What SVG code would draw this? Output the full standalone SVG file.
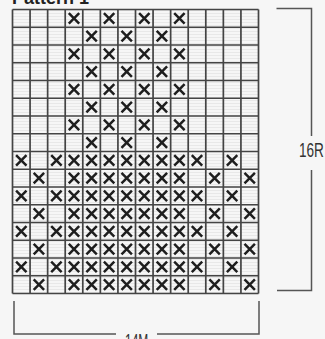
<svg xmlns="http://www.w3.org/2000/svg" xmlns:xlink="http://www.w3.org/1999/xlink" width="325" height="339" viewBox="0 0 325 339">
  <style>
    .grid{fill:none;stroke:#444;stroke-width:1.7}
    .mark{fill:none;stroke:#1e1e1e;stroke-width:2.5;stroke-linecap:butt}
    .dim{fill:none;stroke:#555;stroke-width:1.5}
    .title{font-family:"Liberation Sans",Arial,sans-serif;font-weight:bold;font-size:18px;fill:#222}
    .lbl{font-family:"Liberation Sans",Arial,sans-serif;font-size:20px;fill:#333}
  </style>
  <defs>
    <pattern id="tex" x="0" y="0" width="6" height="3" patternUnits="userSpaceOnUse">
      <line x1="0" y1="1.5" x2="6" y2="1.5" stroke="#e4e4e4" stroke-width="0.8"/>
    </pattern>
    <path id="x" class="mark" d="M-5.2,-5.2L5.2,5.2M5.2,-5.2L-5.2,5.2"/>
    <g id="rowA">
      <use xlink:href="#x" x="74.0"/><use xlink:href="#x" x="109.1"/><use xlink:href="#x" x="144.3"/><use xlink:href="#x" x="179.4"/>
    </g>
    <g id="rowB">
      <use xlink:href="#x" x="91.6"/><use xlink:href="#x" x="126.7"/><use xlink:href="#x" x="161.9"/>
    </g>
    <g id="rowC">
      <use xlink:href="#x" x="21.3"/><use xlink:href="#x" x="56.4"/><use xlink:href="#x" x="74.0"/><use xlink:href="#x" x="91.6"/><use xlink:href="#x" x="109.1"/><use xlink:href="#x" x="126.7"/><use xlink:href="#x" x="144.3"/><use xlink:href="#x" x="161.9"/><use xlink:href="#x" x="179.4"/><use xlink:href="#x" x="197.0"/><use xlink:href="#x" x="232.1"/>
    </g>
    <g id="rowD">
      <use xlink:href="#x" x="38.9"/><use xlink:href="#x" x="74.0"/><use xlink:href="#x" x="91.6"/><use xlink:href="#x" x="109.1"/><use xlink:href="#x" x="126.7"/><use xlink:href="#x" x="144.3"/><use xlink:href="#x" x="161.9"/><use xlink:href="#x" x="179.4"/><use xlink:href="#x" x="214.6"/><use xlink:href="#x" x="249.7"/>
    </g>
  </defs>
  <rect width="325" height="339" fill="#f6f6f6"/>
  <text class="title" x="12" y="4">Pattern 1</text>

  <g id="chart">
    <rect x="12.5" y="9.5" width="246" height="284" fill="url(#tex)"/>
    <path class="grid" d="M12.5,9.5V293.5M30.07,9.5V293.5M47.64,9.5V293.5M65.21,9.5V293.5M82.79,9.5V293.5M100.36,9.5V293.5M117.93,9.5V293.5M135.5,9.5V293.5M153.07,9.5V293.5M170.64,9.5V293.5M188.21,9.5V293.5M205.79,9.5V293.5M223.36,9.5V293.5M240.93,9.5V293.5M258.5,9.5V293.5
      M12.5,9.5H258.5M12.5,27.25H258.5M12.5,45H258.5M12.5,62.75H258.5M12.5,80.5H258.5M12.5,98.25H258.5M12.5,116H258.5M12.5,133.75H258.5M12.5,151.5H258.5M12.5,169.25H258.5M12.5,187H258.5M12.5,204.75H258.5M12.5,222.5H258.5M12.5,240.25H258.5M12.5,258H258.5M12.5,275.75H258.5M12.5,293.5H258.5"/>
    <g id="marks">
      <use xlink:href="#rowA" y="18.4"/>
      <use xlink:href="#rowB" y="36.1"/>
      <use xlink:href="#rowA" y="53.9"/>
      <use xlink:href="#rowB" y="71.6"/>
      <use xlink:href="#rowA" y="89.4"/>
      <use xlink:href="#rowB" y="107.1"/>
      <use xlink:href="#rowA" y="124.9"/>
      <use xlink:href="#rowB" y="142.6"/>
      <use xlink:href="#rowC" y="160.4"/>
      <use xlink:href="#rowD" y="178.1"/>
      <use xlink:href="#rowC" y="195.9"/>
      <use xlink:href="#rowD" y="213.6"/>
      <use xlink:href="#rowC" y="231.4"/>
      <use xlink:href="#rowD" y="249.1"/>
      <use xlink:href="#rowC" y="266.9"/>
      <use xlink:href="#rowD" y="284.6"/>
    </g>
  </g>

  <g id="dim-rows">
    <path class="dim" d="M276.5,8.5H311.5V136M311.5,170V290.5H277"/>
    <text class="lbl" transform="translate(299,157) scale(0.68,1)">16R</text>
  </g>
  <g id="dim-cols">
    <path class="dim" d="M14,301V334H116M157,334H259V301"/>
    <text class="lbl" transform="translate(125,347.5) scale(0.6,1)">14M</text>
  </g>
</svg>
